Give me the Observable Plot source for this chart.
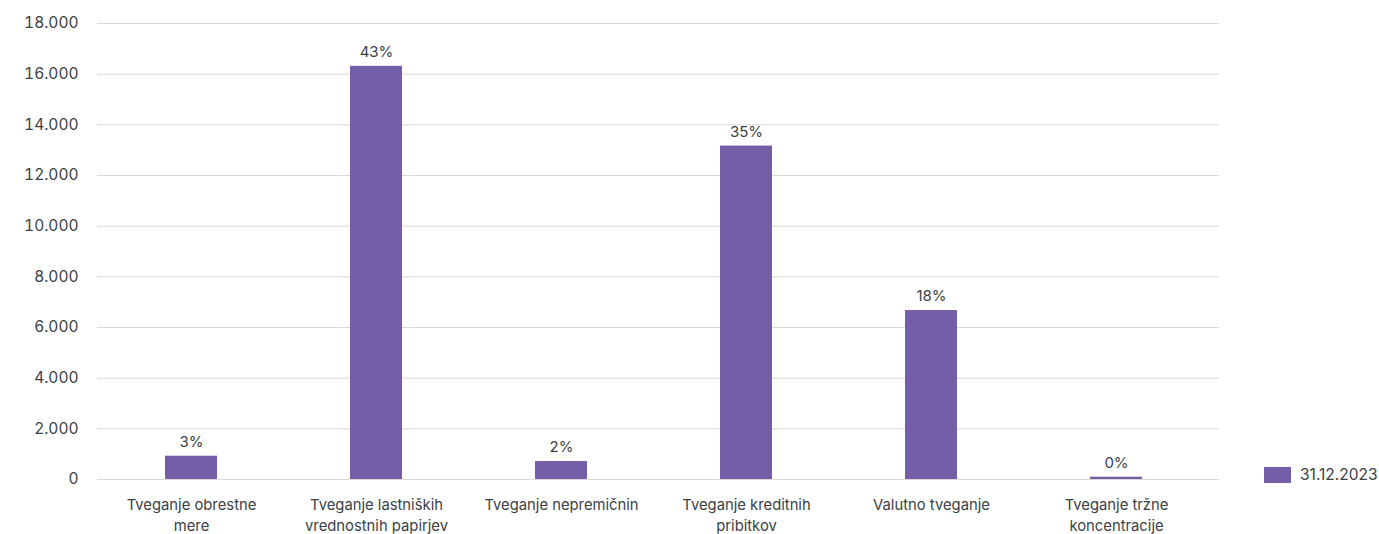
<!DOCTYPE html>
<html>
<head>
<meta charset="utf-8">
<script src="https://cdn.jsdelivr.net/npm/d3@7"></script>
<script src="https://cdn.jsdelivr.net/npm/@observablehq/plot@0.6"></script>
<style>
  html, body { margin: 0; padding: 0; background: #fff; }
  #wrap { position: relative; width: 1379px; height: 534px; font-family: Inter, Lato, sans-serif; }
  #legend { position: absolute; left: 1264px; top: 465px; display: flex; align-items: center; font-size: 15.5px; color: #3a3f44; }
  #legend .sw { width: 27px; height: 16px; background: #755ea8; margin-right: 9px; }
</style>
</head>
<body>
<div id="wrap"></div>
<script>
const categories = [
  "Tveganje obrestne mere",
  "Tveganje lastniških vrednostnih papirjev",
  "Tveganje nepremičnin",
  "Tveganje kreditnih pribitkov",
  "Valutno tveganje",
  "Tveganje tržne koncentracije"
];
const axisLabels = [
  "Tveganje obrestne\nmere",
  "Tveganje lastniških\nvrednostnih papirjev",
  "Tveganje nepremičnin",
  "Tveganje kreditnih\npribitkov",
  "Valutno tveganje",
  "Tveganje tržne\nkoncentracije"
];
const values = [920, 16310, 710, 13160, 6670, 90];
const shareLabels = ["3%", "43%", "2%", "35%", "18%", "0%"];
const yTicks = [0, 2000, 4000, 6000, 8000, 10000, 12000, 14000, 16000, 18000];
const seriesName = "31.12.2023";

const data = categories.map((c, i) => ({cat: c, value: values[i], share: shareLabels[i], label: axisLabels[i]}));
const fmt = v => d3.format(",")(v).replace(/,/g, ".");

const chart = Plot.plot({
  width: 1379,
  height: 534,
  marginLeft: 97,
  marginRight: 160,
  marginTop: 23,
  marginBottom: 55,
  style: {fontFamily: "Inter, Lato, sans-serif", background: "#fff"},
  x: {domain: categories, range: [97, 1209.4], paddingInner: 0.717, paddingOuter: 0.3585, axis: null},
  y: {domain: [0, 18000], axis: null},
  marks: [
    Plot.ruleY(yTicks, {stroke: "#d9d9d9", strokeWidth: 1}),
    Plot.axisY(yTicks, {tickSize: 0, tickPadding: 19, tickFormat: fmt, fontSize: 15.5, fill: "#3a3f44", label: null}),
    Plot.barY(data, {x: "cat", y: "value", fill: "#755ea8"}),
    Plot.text(data, {x: "cat", y: "value", text: "share", dy: -14, fontSize: 15, fill: "#3a3f44"}),
    Plot.text(data, {x: "cat", frameAnchor: "bottom", text: "label", lineAnchor: "top", dy: 16, lineHeight: 1.4, fontSize: 14.8, fill: "#3a3f44"})
  ]
});
const wrap = document.getElementById("wrap");
wrap.appendChild(chart);
const legend = document.createElement("div");
legend.id = "legend";
legend.innerHTML = `<div class="sw"></div><span>${seriesName}</span>`;
wrap.appendChild(legend);
</script>
</body>
</html>
